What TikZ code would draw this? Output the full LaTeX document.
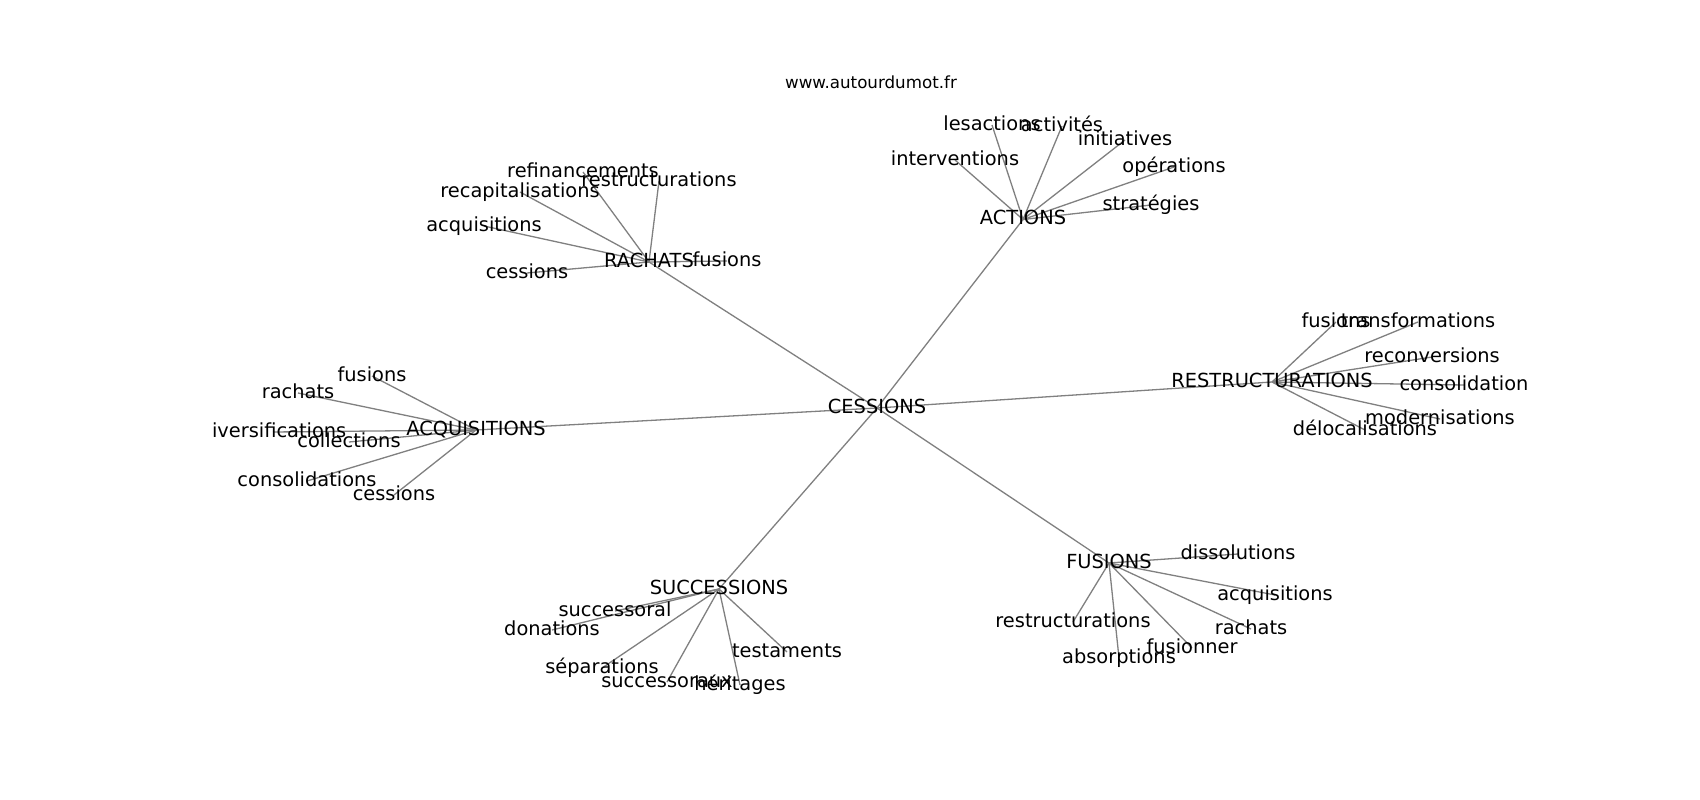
\documentclass[tikz,border=0pt]{standalone}
\usepackage{fontspec}
\setmainfont{DejaVu Sans}
\definecolor{edgegray}{HTML}{808080}
\begin{document}
\begin{tikzpicture}[x=1pt,y=-1pt,
  edge/.style={draw=edgegray,line width=1.3pt},
  lbl/.style={inner sep=0pt,text height=14.7pt,text depth=4.1pt,font=\fontsize{19.4}{22}\selectfont,text=black},
  site/.style={inner sep=0pt,anchor=base,font=\fontsize{16.7}{19}\selectfont,text=black}]
\fill[white] (0,0) rectangle (1700,800);
\useasboundingbox (0,0) rectangle (1700,800);
% hubs
\coordinate (c) at (877,408);
\coordinate (act) at (1023,219.5);
\coordinate (rac) at (649,262);
\coordinate (acq) at (476,430);
\coordinate (res) at (1272,382);
\coordinate (suc) at (719,589);
\coordinate (fus) at (1109,563);
% ACTIONS leaves
\coordinate (act1) at (992,125);
\coordinate (act2) at (1062,126);
\coordinate (act3) at (1125,140);
\coordinate (act4) at (955,160);
\coordinate (act5) at (1174,167);
\coordinate (act6) at (1151,205);
% RACHATS leaves
\coordinate (rac1) at (583,172);
\coordinate (rac2) at (659,181);
\coordinate (rac3) at (520,192);
\coordinate (rac4) at (484,226);
\coordinate (rac5) at (527,273);
\coordinate (rac6) at (727,261);
% ACQUISITIONS leaves
\coordinate (acq1) at (372,376);
\coordinate (acq2) at (298,393);
\coordinate (acq3) at (273,432);
\coordinate (acq4) at (349,442);
\coordinate (acq5) at (307,481);
\coordinate (acq6) at (394,495);
% RESTRUCTURATIONS leaves
\coordinate (res1) at (1336,322);
\coordinate (res2) at (1418,322);
\coordinate (res3) at (1432,357);
\coordinate (res4) at (1464,385);
\coordinate (res5) at (1440,419);
\coordinate (res6) at (1365,430);
% SUCCESSIONS leaves
\coordinate (suc1) at (615,611);
\coordinate (suc2) at (552,630);
\coordinate (suc3) at (602,668);
\coordinate (suc4) at (667,682);
\coordinate (suc5) at (740,685);
\coordinate (suc6) at (787,652);
% FUSIONS leaves
\coordinate (fus1) at (1238,554);
\coordinate (fus2) at (1275,595);
\coordinate (fus3) at (1251,629);
\coordinate (fus4) at (1192,648);
\coordinate (fus5) at (1119,658);
\coordinate (fus6) at (1073,622);
% edges
\foreach \h in {act,rac,acq,res,suc,fus}{
  \draw[edge] (c) -- (\h);
  \foreach \i in {1,...,6}{\draw[edge] (\h) -- (\h\i);}
}
% title
\node[site] (site) at (871,88.7) {www.autourdumot.fr};
\begin{scope}
\clip (212.5,96) rectangle (1530,712);
\node[lbl] (cL) at (c) {CESSIONS};
\node[lbl] (actL) at (act) {ACTIONS};
\node[lbl] (racL) at (rac) {RACHATS};
\node[lbl] (acqL) at (acq) {ACQUISITIONS};
\node[lbl] (resL) at (res) {RESTRUCTURATIONS};
\node[lbl] (sucL) at (suc) {SUCCESSIONS};
\node[lbl] (fusL) at (fus) {FUSIONS};
\node[lbl] (act1L) at (act1) {lesactions};
\node[lbl] (act2L) at (act2) {activités};
\node[lbl] (act3L) at (act3) {initiatives};
\node[lbl] (act4L) at (act4) {interventions};
\node[lbl] (act5L) at (act5) {opérations};
\node[lbl] (act6L) at (act6) {stratégies};
\node[lbl] (rac1L) at (rac1) {refinancements};
\node[lbl] (rac2L) at (rac2) {restructurations};
\node[lbl] (rac3L) at (rac3) {recapitalisations};
\node[lbl] (rac4L) at (rac4) {acquisitions};
\node[lbl] (rac5L) at (rac5) {cessions};
\node[lbl] (rac6L) at (rac6) {fusions};
\node[lbl] (acq1L) at (acq1) {fusions};
\node[lbl] (acq2L) at (acq2) {rachats};
\node[lbl] (acq3L) at (acq3) {diversifications};
\node[lbl] (acq4L) at (acq4) {collections};
\node[lbl] (acq5L) at (acq5) {consolidations};
\node[lbl] (acq6L) at (acq6) {cessions};
\node[lbl] (res1L) at (res1) {fusions};
\node[lbl] (res2L) at (res2) {transformations};
\node[lbl] (res3L) at (res3) {reconversions};
\node[lbl] (res4L) at (res4) {consolidation};
\node[lbl] (res5L) at (res5) {modernisations};
\node[lbl] (res6L) at (res6) {délocalisations};
\node[lbl] (suc1L) at (suc1) {successoral};
\node[lbl] (suc2L) at (suc2) {donations};
\node[lbl] (suc3L) at (suc3) {séparations};
\node[lbl] (suc4L) at (suc4) {successoraux};
\node[lbl] (suc5L) at (suc5) {héritages};
\node[lbl] (suc6L) at (suc6) {testaments};
\node[lbl] (fus1L) at (fus1) {dissolutions};
\node[lbl] (fus2L) at (fus2) {acquisitions};
\node[lbl] (fus3L) at (fus3) {rachats};
\node[lbl] (fus4L) at (fus4) {fusionner};
\node[lbl] (fus5L) at (fus5) {absorptions};
\node[lbl] (fus6L) at (fus6) {restructurations};
\end{scope}
\end{tikzpicture}
\end{document}
